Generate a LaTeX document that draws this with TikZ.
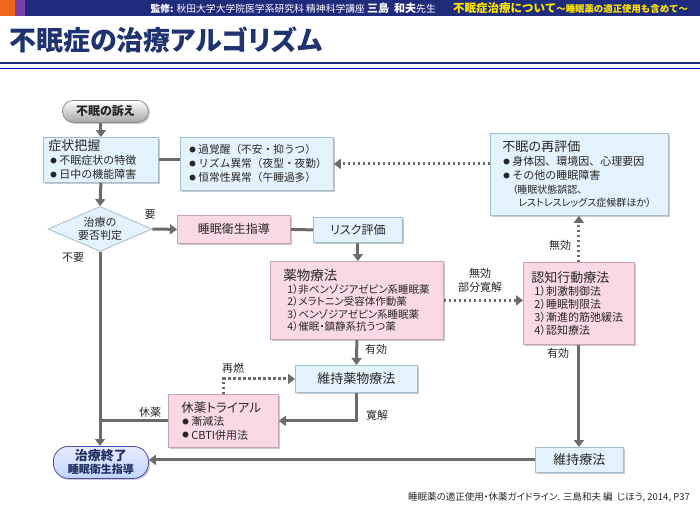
\documentclass[tikz,border=0pt]{standalone}
\usepackage{fontspec}
\setmainfont{Noto Sans CJK JP}[RawFeature=+palt]
\newfontfamily\fw{Noto Sans CJK JP}
\usetikzlibrary{arrows.meta,shapes.geometric,shadows,calc}
\definecolor{navy}{HTML}{1F2C7C}
\definecolor{ttl}{HTML}{1F3370}
\definecolor{orng}{HTML}{F0641E}
\definecolor{purp}{HTML}{7B3FA8}
\definecolor{ylw}{HTML}{FFE600}
\definecolor{arrc}{HTML}{6B6B6B}
\definecolor{bfill}{HTML}{E4F2FB}
\definecolor{bdraw}{HTML}{A3BCCF}
\definecolor{pfill}{HTML}{FAD9E6}
\definecolor{pdraw}{HTML}{C9A3B4}
\definecolor{txt}{HTML}{262626}
\definecolor{endc}{HTML}{1F2F5F}
\newcommand\bul{\raisebox{1.6pt}{\fontsize{6.5}{6}\selectfont\fw ●}\hspace{2.5pt}}
\begin{document}
\begin{tikzpicture}[x=1pt,y=-1pt,
 every node/.style={text=txt, inner sep=0pt},
 boxb/.style={draw=bdraw, fill=bfill, line width=0.8pt,
   drop shadow={shadow xshift=1.5pt,shadow yshift=-1.5pt,opacity=0.35,fill=black!60},
   anchor=north west, align=left},
 boxp/.style={boxb, draw=pdraw, fill=pfill},
 arr/.style={draw=arrc, line width=3pt, -{Triangle[width=10pt,length=7pt]}},
 ln/.style={draw=arrc, line width=3pt},
 dotarr/.style={arr, dash pattern=on 2.5pt off 2.5pt},
 lbl/.style={font=\fontsize{11}{12}\selectfont, text=txt},
]
\useasboundingbox (0,0) rectangle (700,525);
% header
\fill[navy] (0,0) rectangle (700,16);
\fill[orng] (0,0) rectangle (15,16);
\fill[purp] (15,0) rectangle (25,16);
\node[anchor=east, text=white, font=\fontsize{9.8}{10}\selectfont] (sup) at (436,8.5)
  {{\bfseries 監修:} 秋田大学大学院医学系研究科 精神科学講座 {\bfseries\fontsize{11}{10}\selectfont 三島\ \ 和夫}先生};
\node[anchor=west, text=ylw, font=\fw\bfseries\fontsize{11.5}{10}\selectfont] (subt) at (453,8.5)
  {不眠症治療について{\fontsize{9.4}{10}\selectfont ～睡眠薬の適正使用も含めて～}};
\node[anchor=west, font=\bfseries\fontsize{27}{30}\selectfont, text=ttl] (title) at (9,40) {不眠症の治療アルゴリズム};
\fill[navy] (0,61.5) rectangle (700,64);
\draw[blue!60!navy, line width=0.8pt] (0,68) -- (700,68);

% nodes
\node[draw=black!45, line width=0.8pt, top color=white, bottom color=black!35, rounded corners=11pt,
  minimum width=86pt, minimum height=22pt, anchor=north west,
  drop shadow={shadow xshift=1.5pt,shadow yshift=-1.5pt,opacity=0.35,fill=black!60},
  font=\bfseries\fontsize{12}{13}\selectfont] (start) at (62,100) {不眠の訴え};

\node[boxb, minimum height=45pt, text width=105pt, inner xsep=5pt,
  font=\fw\fontsize{11}{14}\selectfont] (sym) at (43,137)
  {{\fontsize{13}{14}\selectfont 症状把握}\\
   \hspace{2pt}\bul 不眠症状の特徴\\
   \hspace{2pt}\bul 日中の機能障害};

\node[boxb, minimum height=53pt, text width=145pt, inner xsep=4pt,
  font=\fw\fontsize{10.7}{14}\selectfont] (cause) at (180,137)
  {\hspace{5pt}\bul 過覚醒（不安・抑うつ）\\
   \hspace{5pt}\bul リズム異常（夜型・夜勤）\\
   \hspace{5pt}\bul 恒常性異常（午睡過多）};

\node[boxb, minimum height=82pt, text width=154pt, inner xsep=12pt,
  font=\fw\fontsize{11}{14}\selectfont] (reeval) at (490,133)
  {{\fontsize{13}{14}\selectfont 不眠の再評価}\\
   \hspace{1pt}\bul 身体因、環境因、心理要因\\
   \hspace{1pt}\bul その他の睡眠障害\\
   {\rmfamily\fontsize{10}{10}\selectfont \hspace{10pt}（睡眠状態誤認、}\\[-1pt]
   {\rmfamily\fontsize{10}{10}\selectfont \hspace{16pt}レストレスレッグス症候群ほか）}};

\node[diamond, draw=bdraw, fill=bfill, line width=0.8pt, aspect=2.3,
  minimum width=104pt, minimum height=45pt, align=center,
  font=\fontsize{11}{13}\selectfont] (dia) at (100,229) {治療の\\要否判定};

\node[boxp, minimum width=113pt, minimum height=28pt, align=center,
  font=\fontsize{12}{13}\selectfont] (hyg) at (177,215) {睡眠衛生指導};

\node[boxb, minimum width=89pt, minimum height=25pt, align=center,
  font=\fontsize{12}{13}\selectfont] (risk) at (313,217) {リスク評価};

\node[boxp, minimum height=78pt, text width=147pt, inner xsep=13pt,
  font=\fontsize{10.5}{12.5}\selectfont] (drug) at (270,261)
  {{\fontsize{13.5}{14}\selectfont 薬物療法}\\
   \hspace{4pt}1）非ベンゾジアゼピン系睡眠薬\\
   \hspace{4pt}2）メラトニン受容体作動薬\\
   \hspace{4pt}3）ベンゾジアゼピン系睡眠薬\\
   \hspace{4pt}4）催眠・鎮静系抗うつ薬};

\node[boxp, minimum height=82pt, text width=95pt, inner xsep=8pt,
  font=\fontsize{11}{13}\selectfont] (cbt) at (523,262)
  {{\fontsize{13}{14}\selectfont 認知行動療法}\\
   \hspace{3pt}1）刺激制御法\\
   \hspace{3pt}2）睡眠制限法\\
   \hspace{3pt}3）漸進的筋弛緩法\\
   \hspace{3pt}4）認知療法};

\node[boxb, minimum width=122pt, minimum height=27pt, align=center,
  font=\fontsize{13}{14}\selectfont] (maintd) at (295,365) {維持薬物療法};

\node[boxp, minimum height=53pt, text width=84pt, inner xsep=13pt,
  font=\fontsize{11}{13.5}\selectfont] (trial) at (168,394)
  {{\fontsize{12.5}{14}\selectfont 休薬トライアル}\\
   \hspace{1pt}\bul 漸減法\\
   \hspace{1pt}\bul CBTI併用法};

\node[boxb, minimum width=88pt, minimum height=25pt, align=center,
  font=\fontsize{13}{14}\selectfont] (maint) at (535,447) {維持療法};

\node[draw=blue!55!black!70, line width=0.8pt, top color=blue!8, bottom color=cyan!35!blue!25,
  rounded corners=15pt, minimum width=95pt, minimum height=32pt, anchor=north west, align=center,
  drop shadow={shadow xshift=1.5pt,shadow yshift=-1.5pt,opacity=0.35,fill=black!60},
  text=endc, font=\bfseries\fontsize{13}{14}\selectfont] (endp) at (53,446)
  {治療終了\\[-1pt]{\fontsize{11}{12}\selectfont 睡眠衛生指導}};

% connectors
\draw[arr] (sym.north |- start.south) -- (sym.north);
\draw[ln] (sym.east) -- (sym.east -| cause.west);
\draw[dotarr] (reeval.west |- cause.east) -- (cause.east);
\draw[arr] (sym.south) -- (dia.north);
\draw[arr] (dia.east) -- (hyg.west);
\draw[ln] (hyg.east) -- (risk.west);
\draw[arr] (risk.south) -- (risk.south |- drug.north);
\draw[dotarr] (drug.east) -- (drug.east -| cbt.west);
\draw[dotarr] (cbt.north) -- (cbt.north |- reeval.south);
\draw[arr] (drug.south) -- (maintd.north);
\draw[arr] (cbt.south) -- (cbt.south |- maint.north);
\draw[arr] (maint.west) -- (maint.west -| endp.east);
\draw[arr] (dia.south) -- (dia.south |- endp.north);
\draw[ln] (trial.west) -- (trial.west -| dia.south);
\draw[arr] (maintd.south) |- (trial.east);
\draw[dotarr] (trial.north) |- (maintd.west);

% labels
\node[lbl] (l1) at (150,215) {要};
\node[lbl] (l2) at (73,258) {不要};
\node[lbl] (l3) at (480,273) {無効};
\node[lbl] (l4) at (480,287) {部分寛解};
\node[lbl] (l5) at (560,245) {無効};
\node[lbl] (l6) at (376,349) {有効};
\node[lbl] (l7) at (558,353) {有効};
\node[lbl] (l8) at (233,368) {再燃};
\node[lbl] (l9) at (150,412) {休薬};
\node[lbl] (l10) at (377,415) {寛解};

\node[anchor=west, font=\fontsize{9.5}{10}\selectfont] (cite) at (408,497)
  {睡眠薬の適正使用・休薬ガイドライン. 三島和夫 編\ \ じほう, 2014, P37};
\end{tikzpicture}
\end{document}
